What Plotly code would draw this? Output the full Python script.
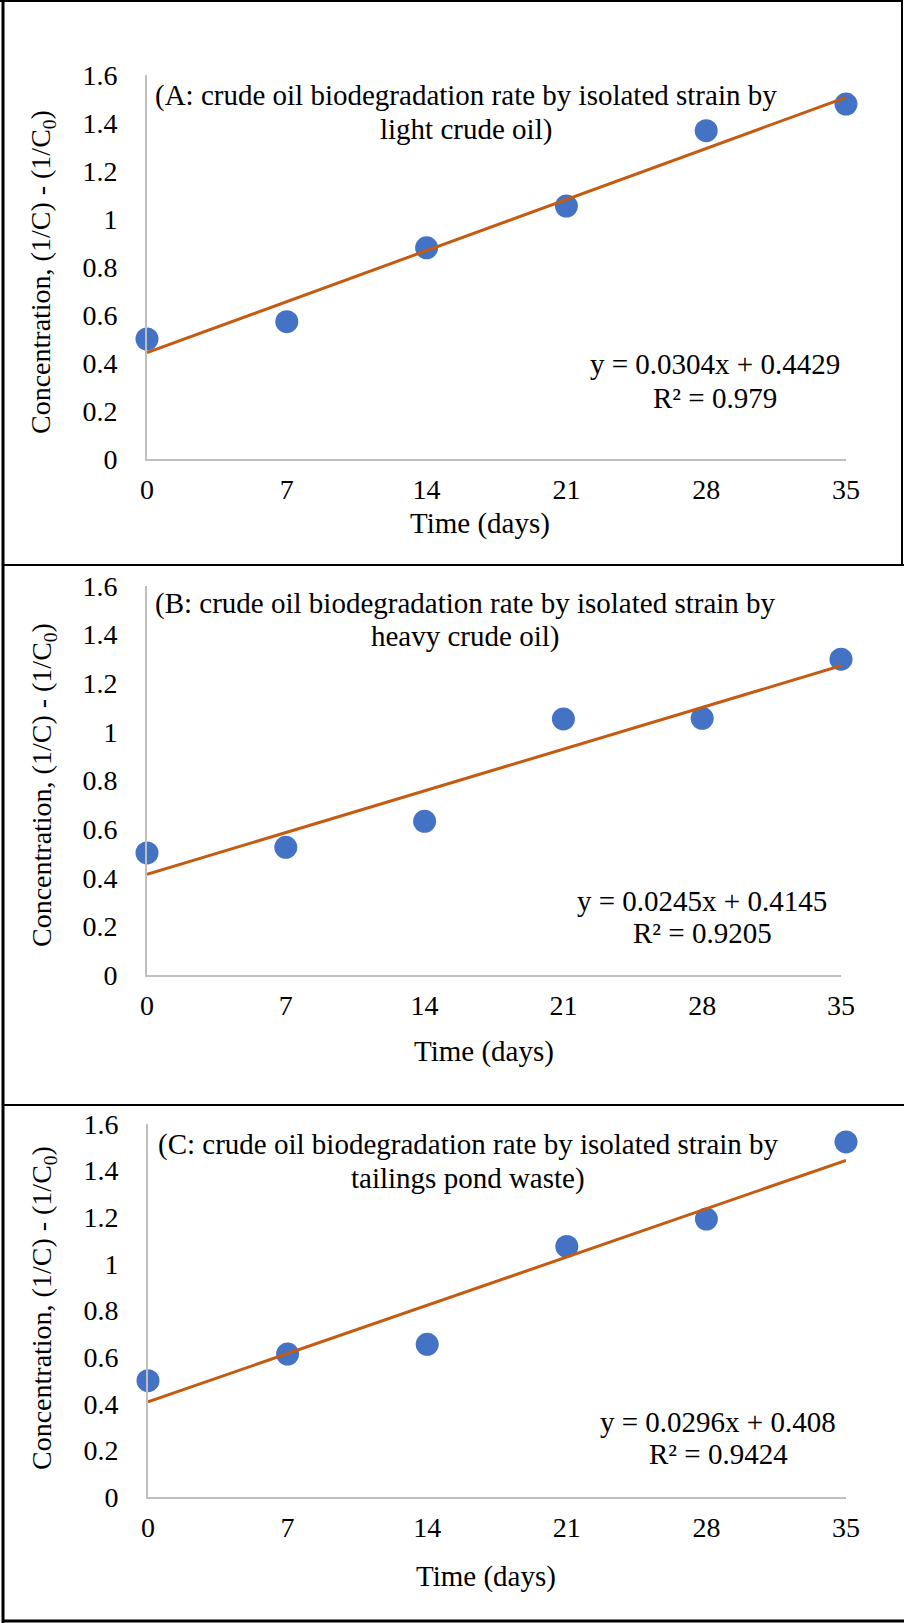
import plotly.graph_objects as go

# ---------------- data ----------------
days = [0, 7, 14, 21, 28, 35]
conc_A = [0.50, 0.572, 0.88, 1.054, 1.368, 1.479]
conc_B = [0.502, 0.525, 0.632, 1.053, 1.056, 1.299]
conc_C = [0.499, 0.613, 0.655, 1.075, 1.192, 1.523]

slopes = [0.0304, 0.0245, 0.0296]
intercepts = [0.4429, 0.4145, 0.408]

titles_line1 = [
    "(A: crude oil biodegradation rate by isolated strain by",
    "(B: crude oil biodegradation rate by isolated strain by",
    "(C: crude oil biodegradation rate by isolated strain by",
]
titles_line2 = ["light crude oil)", "heavy crude oil)", "tailings pond waste)"]
eq_text = ["y = 0.0304x + 0.4429", "y = 0.0245x + 0.4145", "y = 0.0296x + 0.408"]
r2_text = ["R² = 0.979", "R² = 0.9205", "R² = 0.9424"]

x_ticks = [0, 7, 14, 21, 28, 35]
y_ticks = [0, 0.2, 0.4, 0.6, 0.8, 1.0, 1.2, 1.4, 1.6]
y_tick_labels = ["0", "0.2", "0.4", "0.6", "0.8", "1", "1.2", "1.4", "1.6"]

x_title = "Time (days)"
y_title = "Concentration, (1/C) - (1/C<sub>0</sub>)"

# ---------------- layout geometry (pixels) ----------------
W, H = 904, 1623
FONT = "Liberation Serif, Times New Roman, serif"

areas = [(147, 846, 75, 459), (147, 841, 586, 975), (148, 846, 1124, 1497)]
ann1_y = [96, 603, 1144]
ann2_y = [129, 636, 1178]
ann_x = [466, 465, 468]
eq_y = [364, 901, 1422]
r2_y = [398, 933, 1454]
eq_x = [715, 702, 718]
xt_y = [524, 1051, 1576]
xt_x = [480, 484, 486]
yt_x = 43
yt_y = [272, 785, 1308]


def px(x):
    return x / W


def py(y):
    return 1 - y / H


fig = go.Figure()
series = [conc_A, conc_B, conc_C]
annotations = []
for i in range(3):
    xa = "x" if i == 0 else f"x{i+1}"
    ya = "y" if i == 0 else f"y{i+1}"
    fit_x = [x_ticks[0], x_ticks[-1]]
    fit_y = [slopes[i] * v + intercepts[i] for v in fit_x]
    fig.add_trace(go.Scatter(x=days, y=series[i], mode="markers",
                             marker=dict(color="#4472C4", size=23),
                             cliponaxis=False, xaxis=xa, yaxis=ya,
                             showlegend=False))
    fig.add_trace(go.Scatter(x=fit_x, y=fit_y, mode="lines",
                             line=dict(color="#C55A11", width=3),
                             cliponaxis=False, xaxis=xa, yaxis=ya,
                             showlegend=False))
    l, r, t, b = areas[i]
    xkey = "xaxis" if i == 0 else f"xaxis{i+1}"
    ykey = "yaxis" if i == 0 else f"yaxis{i+1}"
    fig.layout[xkey] = dict(domain=[px(l), px(r)], anchor=ya, range=[0, 35],
                            tickvals=x_ticks, showgrid=False, zeroline=False,
                            showline=True, linecolor="#BFBFBF", linewidth=2,
                            ticks="", ticklabelstandoff=4, automargin=False,
                            tickfont=dict(family=FONT, size=28, color="black"))
    fig.layout[ykey] = dict(domain=[py(b), py(t)], anchor=xa, range=[0, 1.6],
                            tickvals=y_ticks, ticktext=y_tick_labels,
                            showgrid=False, zeroline=False,
                            showline=True, linecolor="#BFBFBF", linewidth=2,
                            ticks="", ticklabelstandoff=22, automargin=False,
                            tickfont=dict(family=FONT, size=28, color="black"))
    for txt, x, y in [(titles_line1[i], ann_x[i], ann1_y[i]),
                      (titles_line2[i], ann_x[i], ann2_y[i]),
                      (eq_text[i], eq_x[i], eq_y[i]),
                      (r2_text[i], eq_x[i], r2_y[i]),
                      (x_title, xt_x[i], xt_y[i])]:
        annotations.append(dict(text=txt, x=px(x), y=py(y), xref="paper", yref="paper",
                                xanchor="center", yanchor="middle", showarrow=False,
                                font=dict(family=FONT, size=29, color="black")))
    annotations.append(dict(text=y_title, x=px(yt_x), y=py(yt_y[i]), xref="paper",
                            yref="paper", xanchor="center", yanchor="middle",
                            showarrow=False, textangle=-90,
                            font=dict(family=FONT, size=28, color="black")))

shapes = []
def seg(x0, y0, x1, y1, w=2):
    shapes.append(dict(type="line", xref="paper", yref="paper",
                       x0=px(x0), y0=py(y0), x1=px(x1), y1=py(y1),
                       line=dict(color="black", width=w)))

seg(3, 0, 3, H, 3)          # left border
seg(0, 1, 902, 1, 2)        # top border
seg(902, 0, 902, 566, 2)    # right border of top panel
seg(3, 565, W, 565, 2)      # separator A/B
seg(3, 1105, W, 1105, 2)    # separator B/C
seg(3, 1621, W, 1621, 3)    # bottom border

fig.update_layout(width=W, height=H,
                  margin=dict(l=0, r=0, t=0, b=0, pad=0, autoexpand=False),
                  paper_bgcolor="white", plot_bgcolor="white",
                  annotations=annotations, shapes=shapes)

fig.write_html("out.html",
               post_script="document.body.style.margin='0px';")
